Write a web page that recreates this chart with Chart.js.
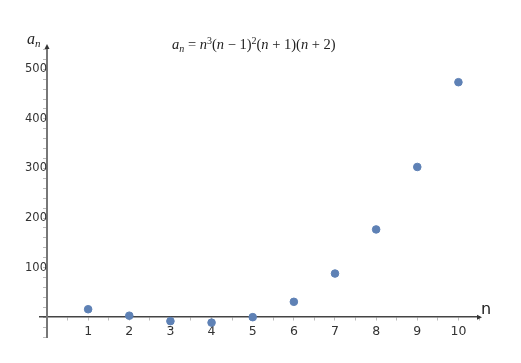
<!DOCTYPE html>
<html>
<head>
<meta charset="utf-8">
<script src="https://cdn.jsdelivr.net/npm/chart.js@4"></script>
<style>
	html, body { margin: 0; padding: 0; background: #fff; }
	#wrap { width: 521px; height: 363px; }
</style>
</head>
<body>
<div id="wrap"><canvas id="grafico_puntos"></canvas></div>
<script>
//Datos
const valoresN = [1, 2, 3, 4, 5, 6, 7, 8, 9, 10]
const valoresA = [16, 3, -8, -11, 0, 31, 88, 177, 303, 474]
const etiquetasY = [100, 200, 300, 400, 500]
const etiquetasX = [1, 2, 3, 4, 5, 6, 7, 8, 9, 10]

const puntos = valoresN.map((n, i) => ({ x: n, y: valoresA[i] }))

//Flechas, nombres de ejes y formula
const extrasPlugin = {
	id: 'extras',
	afterDraw(chart) {
		const ctx = chart.ctx
		const sx = chart.scales.x
		const sy = chart.scales.y
		const x0 = sx.getPixelForValue(0)
		const y0 = sy.getPixelForValue(0)
		ctx.save()
		// flecha eje x
		ctx.fillStyle = '#333'
		let xe = sx.right
		ctx.beginPath()
		ctx.moveTo(xe + 3, y0)
		ctx.lineTo(xe - 2, y0 - 2.5)
		ctx.lineTo(xe - 2, y0 + 2.5)
		ctx.closePath()
		ctx.fill()
		// flecha eje y
		let ye = sy.top
		ctx.beginPath()
		ctx.moveTo(x0, ye - 3)
		ctx.lineTo(x0 - 2.5, ye + 2)
		ctx.lineTo(x0 + 2.5, ye + 2)
		ctx.closePath()
		ctx.fill()
		// nombre eje x
		ctx.fillStyle = '#222'
		ctx.font = '16px "DejaVu Sans"'
		ctx.textBaseline = 'alphabetic'
		ctx.fillText('n', xe + 2, y0 - 3)
		// nombre eje y
		ctx.font = 'italic 16px "Liberation Serif"'
		ctx.fillText('a', 27, 44)
		ctx.font = 'italic 11px "Liberation Serif"'
		ctx.fillText('n', 35, 47)
		// formula
		const partes = [
			['a', 'i', 0], ['n', 'is', 3], [' = ', 'r', 0], ['n', 'i', 0], ['3', 'rs', -5],
			['(', 'r', 0], ['n', 'i', 0], [' \u2212 1)', 'r', 0], ['2', 'rs', -5],
			['(', 'r', 0], ['n', 'i', 0], [' + 1)(', 'r', 0], ['n', 'i', 0], [' + 2)', 'r', 0]
		]
		let px = 172
		const py = 49
		partes.forEach(([t, f, dy]) => {
			let fuente = f.startsWith('i') ? 'italic ' : ''
			fuente += f.endsWith('s') ? '10px ' : '14.5px '
			ctx.font = fuente + '"Liberation Serif"'
			ctx.fillText(t, px, py + dy)
			px += ctx.measureText(t).width
		})
		ctx.restore()
	}
}

let graficoCanvas = document.getElementById('grafico_puntos')
let scatterChart = new Chart(graficoCanvas, {
	type: 'scatter',
	data: {
		datasets: [{
			label: 'a_n',
			data: puntos,
			backgroundColor: '#5e81b5',
			borderColor: '#5e81b5',
			pointRadius: 3.8,
			pointHoverRadius: 3.8
		}]
	},
	options: {
		responsive: true,
		maintainAspectRatio: false,
		animation: false,
		layout: { padding: { left: 40, right: 42, top: 47, bottom: 26 } },
		plugins: {
			legend: { display: false },
			tooltip: { enabled: false }
		},
		scales: {
			x: {
				type: 'linear',
				position: { y: 0 },
				min: -0.17,
				max: 10.5,
				border: { display: true, color: '#444', width: 1.5 },
				grid: { display: true, drawOnChartArea: false, drawTicks: true, tickLength: 3, color: '#bbb' },
				ticks: {
					stepSize: 0.5,
					includeBounds: false,
					autoSkip: false,
					maxRotation: 0,
					padding: 4,
					color: '#333',
					font: { family: '"DejaVu Sans"', size: 12.5 },
					callback: (v) => etiquetasX.includes(v) ? String(v) : ''
				}
			},
			y: {
				type: 'linear',
				position: { x: 0 },
				min: -40,
				max: 545,
				border: { display: true, color: '#777', width: 2 },
				grid: { display: true, drawOnChartArea: false, drawTicks: true, tickLength: 3, color: '#bbb' },
				ticks: {
					stepSize: 20,
					includeBounds: false,
					autoSkip: false,
					padding: 2,
					color: '#333',
					font: { family: '"DejaVu Sans"', size: 11.5 },
					callback: (v) => etiquetasY.includes(v) ? String(v) : ''
				}
			}
		}
	},
	plugins: [extrasPlugin]
})
</script>
</body>
</html>
